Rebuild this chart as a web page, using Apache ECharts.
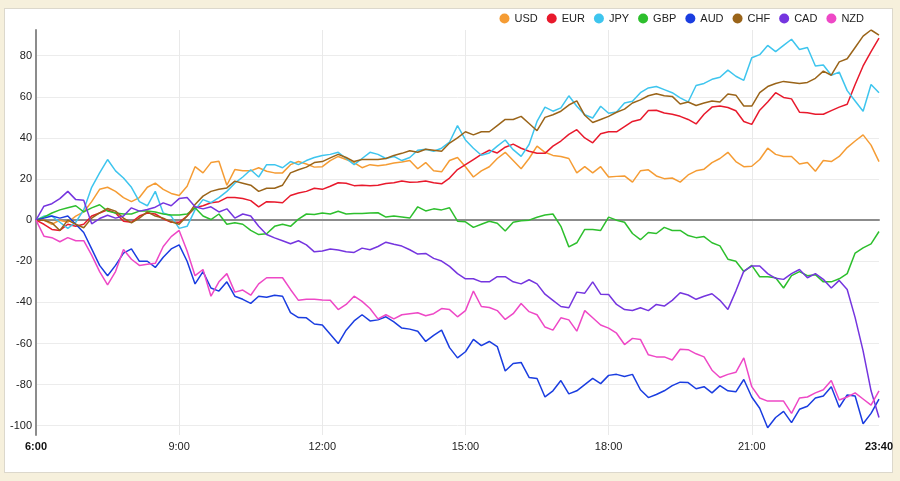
<!DOCTYPE html>
<html>
<head>
<meta charset="utf-8">
<title>Currency strength</title>
<script src="https://cdn.jsdelivr.net/npm/echarts@6/dist/echarts.min.js"></script>
<style>
  html, body { margin: 0; padding: 0; background: #f6f0dc; }
  #panel { position: absolute; left: 4px; top: 8px; width: 887px; height: 463px; background: #fff; border: 1px solid #dcd8cc; }
  #chart { position: absolute; left: 0; top: 0; width: 900px; height: 481px; }
</style>
</head>
<body>
<div id="panel"></div>
<div id="chart"></div>
<script>
// 10 minute steps, 6:00 .. 23:40
var times = []
for (var m = 360; m <= 1420; m += 10) {
  times.push(Math.floor(m / 60) + ':' + String(m % 60).padStart(2, '0'))
}

var currencies = ['USD', 'EUR', 'JPY', 'GBP', 'AUD', 'CHF', 'CAD', 'NZD']
var colors = ['#f59c34', '#e8192c', '#3ec5ee', '#2dbf2d', '#1a3de0', '#9a6419', '#7535df', '#ee48c6']

var usd = [].concat(
  [0, 0, -2, 0, -1, 2, 4, 9, 15, 16, 14, 11, 9, 11, 16, 18, 15, 13, 12, 16.5, 26, 23, 28, 28.7, 17, 24.6, 24],
  [24, 25.5, 23.8, 23, 23, 27, 28.5, 27.3, 25.8, 26, 29, 31, 29.5, 28, 25.5, 27, 26.5, 27, 27.8, 28.3, 29, 25, 28, 24, 23.5, 29],
  [30.5, 26, 21, 24, 26, 30, 33, 29, 25, 30, 36, 33, 31.5, 31, 30, 23, 26, 23, 26, 21, 21.3, 21.5, 18.5, 24, 24.5, 21.5],
  [20.2, 20.5, 18.5, 22, 24, 24.8, 28, 30, 33, 28.5, 26, 26.2, 29.5, 35, 32, 31, 31, 27.3, 28, 23.8, 29, 28.5, 31, 35.3, 38.5, 41.5, 36.5, 28.5]
)
var eur = [].concat(
  [0, -2, -4.5, -5, -2, -3, -2, 2, 3.5, 5, 3.5, -0.5, -1, 2, 3.5, 3, 0.6, -1, -1, 2, 6, 7, 8.5, 9, 11, 11, 10.5],
  [9.5, 6.5, 9, 8.8, 8.5, 12, 13.2, 14, 15.5, 15, 16.5, 18.2, 18, 16.8, 17, 16.8, 17, 17.8, 18.2, 19, 18.5, 18.6, 19, 18.2, 17.7, 20.5],
  [24.6, 27, 29.5, 32, 34, 32.7, 35.5, 37, 35, 33.5, 32.5, 32.5, 36, 38.5, 41.7, 44, 40, 37.6, 42, 43, 43, 45.5, 48, 49, 53.3, 53.5],
  [52.1, 51.5, 50.5, 49, 46.8, 51.5, 55, 55.5, 54.8, 53.2, 48, 46.6, 53.5, 57.5, 62, 59.7, 59, 52.5, 52.2, 51.5, 51.5, 53.3, 55, 56.4, 66, 75, 82, 88.5]
)
var jpy = [].concat(
  [0, 2, 2, -1, -4, -1, 5, 16, 23, 29.5, 24, 20.5, 16, 9, 7, 14, 3.5, 2, -4, -3, 5, 10, 8.5, 11, 14, 18, 21],
  [24.5, 21, 27, 27, 25.5, 28.5, 27, 29, 30.5, 31.5, 32, 33, 30, 27, 30, 33, 32, 30, 31, 29, 30.5, 34, 34.5, 33.5, 35, 38],
  [46, 39, 35, 31.6, 32.7, 36, 39, 34.3, 31, 36.8, 48, 55, 53, 54.6, 60.5, 55.4, 51.3, 49.7, 55.4, 52, 52.6, 57, 57.8, 62, 64.3, 65],
  [63.5, 62, 59.5, 57.5, 65.5, 66.5, 68.5, 69.5, 73, 70, 68, 79, 80.5, 85, 82, 85, 88, 83, 84, 75, 75.5, 70.5, 72, 63, 58, 53, 66, 62]
)
var gbp = [].concat(
  [0, 1.5, 3.5, 5, 6, 7, 4, 6, 7.5, 4.4, 3.5, 3, 3, 4.4, 4.4, 4, 3, 2.5, 2.5, 3, 6, 2, 0.3, 3, -2, -1.3, -2],
  [-5, -7, -6.6, -3, -2, -3, 0.5, 3, 2.8, 3.5, 3, 4.3, 3, 3.2, 3.2, 3.5, 3.6, 1.5, 2, 1.5, 1, 6.5, 4.5, 5.5, 5, 6],
  [-0.5, -0.8, -3.5, -2, -0.5, -1.5, -5.3, -1, -0.3, 0, 1.4, 2.5, 3, -3, -13, -11, -4.5, -4.5, -5, 1.5, 0, -1, -6.5, -9.5, -6, -6.5],
  [-3.5, -5, -5, -7.5, -8.5, -8, -11, -12.5, -19, -20, -25, -22, -27.5, -27.5, -28, -33, -27, -25, -27, -26.5, -30, -30, -28.5, -26, -16, -13.5, -11.5, -5.5]
)
var aud = [].concat(
  [0, 1, 2, 1, 2, -2, -6, -14, -22, -27, -22, -16, -14, -20, -20, -23, -18, -14, -12, -20, -31, -25, -33, -34.5, -30, -37, -38.5],
  [-40.5, -37, -37.5, -36.5, -37, -45, -47.4, -47.5, -50.5, -51, -55.5, -60, -53.5, -49, -46, -49, -48.5, -47, -49.5, -52.5, -53, -54, -59, -56, -53.5, -62],
  [-67, -64, -58, -61, -59, -61.5, -73.4, -69.7, -69.2, -76.5, -77, -86, -83, -78, -84.5, -83, -80, -77, -79.5, -75.5, -75, -76, -75, -82.5, -86.3, -84.8],
  [-83, -80.5, -78.8, -79, -82, -81, -84, -80.5, -83, -83.5, -77.5, -86, -91.5, -101, -96, -93, -98.5, -92, -90.5, -86.5, -85.5, -81, -91, -85, -85.5, -99, -94, -87]
)
var chf = [].concat(
  [0, 0, -1.3, -5, 0, -2, -3.7, 1, 3.5, 5.7, 4.4, 1, -1.3, 1, 4, 2, 1, -0.8, -2, 2, 7.6, 11.7, 14, 15, 15.7, 19, 18],
  [17, 14, 15.5, 15.5, 17, 23, 24.5, 25.8, 28, 28.5, 30.3, 32, 30.5, 28.5, 29.5, 29.5, 29.5, 30, 31.5, 32.5, 33.8, 33, 34.5, 34, 33.5, 37.5],
  [40, 43, 41.5, 43, 43, 46, 49, 49, 50.5, 47, 43.5, 50, 51.3, 53, 56, 58, 51, 47.5, 49, 50.5, 52.5, 54, 57, 58.5, 60.5, 61.5],
  [60.5, 60.2, 56.5, 57.5, 55.8, 57, 58, 57.5, 61.4, 60.8, 55.5, 55.5, 62, 65, 66.5, 67.5, 67, 66.5, 67, 69, 72.5, 70.5, 77, 78.5, 84, 89.5, 92.5, 90]
)
var cad = [].concat(
  [0, 6.8, 8, 10.5, 14, 10, 9.7, -1.8, 0.8, 2.4, 1, 2, 6, 4.4, 5.2, 6.3, 8.4, 7, 10.5, 11, 6.5, 5.5, 6.5, 4, 5.5, 1, 3],
  [2, -3, -7, -8.6, -10, -11.5, -10, -12, -15.4, -15, -14, -14.5, -15.4, -15.7, -13.6, -14.4, -12.8, -10.7, -11.7, -12.6, -14.4, -16.5, -16.2, -18.6, -19.9, -22.5],
  [-26, -28.5, -28.5, -30, -30, -27.5, -27.5, -30, -31, -29, -31, -36, -39, -42, -42.6, -35, -35.5, -30, -36, -36.2, -41, -43.5, -43.9, -42.6, -44, -41],
  [-41.8, -39, -35.3, -36.4, -38.5, -37, -35.8, -39, -43.4, -34.5, -24.8, -22.3, -22.3, -26, -28.3, -28.8, -26, -24, -28, -26, -28.8, -33, -29.3, -33.7, -47.4, -63.6, -83, -96]
)
var nzd = [].concat(
  [0, -7.8, -8.5, -10.5, -8.5, -10, -10, -17, -25, -31.5, -25, -14.3, -19, -22, -21.5, -21, -12.8, -8, -5, -15, -27, -24, -37, -30, -26, -35, -34],
  [-36.5, -31, -28, -28, -28, -33.7, -39, -38.5, -38.5, -38.8, -39, -43.5, -41, -37, -39.5, -43, -48, -46, -48, -46, -45.5, -45, -46.5, -45.5, -43, -43.5],
  [-47, -44, -34.5, -42, -42.5, -44, -48.3, -45.5, -40.5, -44.5, -46, -52, -53.5, -47.5, -48.5, -54, -44, -47.5, -51, -52.5, -55, -60.5, -57.5, -58, -65.5, -66.5],
  [-66.5, -68, -62.8, -63, -65, -66.5, -73, -76.5, -75, -74, -67, -81, -86.5, -88, -88, -88, -94, -86.5, -86, -84, -82.5, -78, -87.5, -86, -84, -87, -90, -83]
)

var seriesValues = [usd, eur, jpy, gbp, aud, chf, cad, nzd]
var lastIndex = times.length - 1

var chart = echarts.init(document.getElementById('chart'), null, { renderer: 'canvas' })

var series = []
for (var i = 0; i < currencies.length; i++) {
  series.push({
    name: currencies[i],
    type: 'line',
    data: seriesValues[i],
    showSymbol: false,
    symbol: 'none',
    lineStyle: { width: 1.5, color: colors[i] },
    itemStyle: { color: colors[i] },
    emphasis: { disabled: true }
  })
}

chart.setOption({
  animation: false,
  textStyle: { fontFamily: 'Liberation Sans, Arial, sans-serif' },
  legend: {
    data: currencies,
    right: 36,
    top: 13,
    padding: 0,
    icon: 'circle',
    itemWidth: 10,
    itemHeight: 10,
    itemGap: 9,
    textStyle: { fontSize: 11, color: '#222' }
  },
  grid: { left: 36, right: 21, top: 30, bottom: 46 },
  xAxis: [
    {
      type: 'category',
      data: times,
      boundaryGap: false,
      axisLine: { show: false, onZero: false },
      axisTick: { show: false },
      axisLabel: {
        interval: function (idx) { return idx % 18 === 0 || idx === lastIndex },
        margin: 6,
        fontSize: 11,
        color: '#222',
        formatter: function (val, idx) {
          if (idx === 0 || idx === lastIndex) return '{b|' + val + '}'
          return val
        },
        rich: { b: { fontWeight: 'bold', fontSize: 11, color: '#111' } }
      },
      splitLine: {
        show: true,
        interval: function (idx) { return idx % 18 === 0 && idx !== 0 },
        lineStyle: { color: '#e9e9e9', width: 1 }
      }
    },
    {
      // zero line
      type: 'category',
      data: times,
      boundaryGap: false,
      position: 'bottom',
      axisLine: { show: true, onZero: true, lineStyle: { color: '#8c8c8c', width: 2 } },
      axisTick: { show: false },
      axisLabel: { show: false },
      splitLine: { show: false }
    }
  ],
  yAxis: {
    type: 'value',
    min: -104.5,
    max: 92.5,
    splitNumber: 10,
    axisLine: { show: true, lineStyle: { color: '#8c8c8c', width: 2 } },
    axisTick: { show: false },
    axisLabel: {
      margin: 4,
      fontSize: 11,
      color: '#222',
      showMinLabel: false,
      showMaxLabel: false,
      formatter: function (v) { return v % 20 === 0 ? String(v) : '' }
    },
    splitLine: { show: true, showMinLine: false, showMaxLine: false, lineStyle: { color: '#ececec', width: 1 } }
  },
  series: series
})
</script>
</body>
</html>
